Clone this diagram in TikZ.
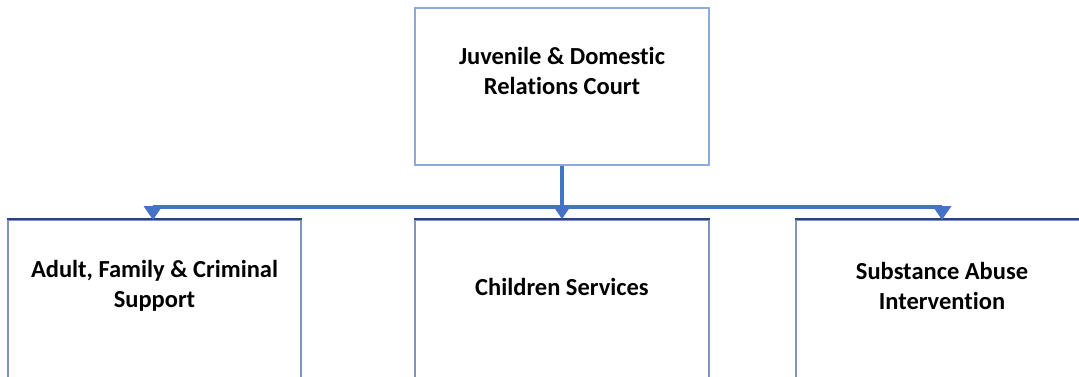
\documentclass[tikz,border=0pt]{standalone}
\usepackage{fontspec}
\setmainfont{Carlito}[RawFeature={-liga;-dlig;-clig}]
\usetikzlibrary{arrows.meta}
\definecolor{conn}{HTML}{4472C4}
\definecolor{topedge}{HTML}{8EA9DB}
\definecolor{sideedge}{HTML}{7F93BF}
\definecolor{darkedge}{HTML}{2A4478}
\tikzset{
  topbox/.style={draw=topedge, line width=1.8pt, rectangle, minimum width=294pt, minimum height=157pt, inner sep=0pt},
  subbox/.style={draw=sideedge, line width=1.8pt, rectangle, inner sep=0pt},
  lbl/.style={font=\fontsize{24.5}{30}\selectfont\bfseries, align=center, text=black, inner sep=0pt},
  link/.style={draw=conn, line width=3.4pt, -{Triangle[width=18pt,length=14pt]}},
}
\begin{document}
\begin{tikzpicture}[x=1pt,y=-1pt]
\clip (0,0) rectangle (1079,377);
\fill[white] (0,0) rectangle (1079,377);
% boxes
\node[topbox] (court) at (562,86.5) {};
\node[subbox, minimum width=293pt, minimum height=240pt] (adult) at (154.5,340) {};
\node[subbox, minimum width=294pt, minimum height=240pt] (child) at (562,340) {};
\node[subbox, minimum width=320pt, minimum height=240pt] (subst) at (956,340) {};
\foreach \b in {adult,child,subst}
  \draw[darkedge, line width=1.8pt] (\b.north west) -- (\b.north east);
% texts
\node[lbl] (courtT) at (562,71) {Juvenile \& Domestic\\Relations Court};
\node[lbl] (adultT) at (154.5,286) {Adult, Family \& Criminal\\Support};
\node[lbl] (childT) at (562,287) {Children Services};
\node[lbl] (substT) at (942,286) {Substance Abuse\\Intervention};
% connectors
\coordinate (j) at (562,207);
\coordinate (la) at (153,220);
\coordinate (ra) at (942,220);
\draw[link] (court.south) -- (child.north);
\draw[link] (j) -| (la);
\draw[link] (j) -| (ra);
\end{tikzpicture}
\end{document}
